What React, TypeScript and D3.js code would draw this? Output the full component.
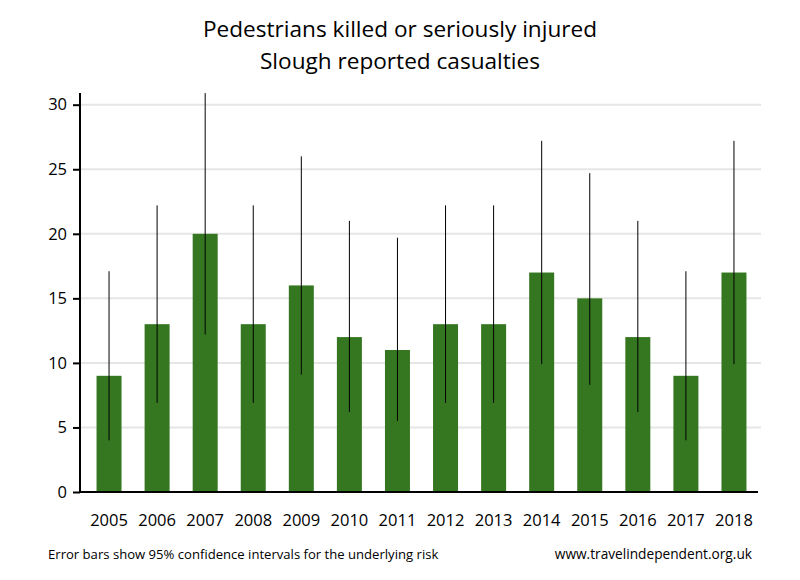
import React, { useRef, useEffect } from 'react';
import * as d3 from 'd3';

const years = ['2005', '2006', '2007', '2008', '2009', '2010', '2011', '2012', '2013', '2014', '2015', '2016', '2017', '2018'];
const casualties = [9, 13, 20, 13, 16, 12, 11, 13, 13, 17, 15, 12, 9, 17];
const lowerCI = [4.0, 6.9, 12.2, 6.9, 9.1, 6.2, 5.5, 6.9, 6.9, 9.9, 8.3, 6.2, 4.0, 9.9];
const upperCI = [17.1, 22.2, 30.9, 22.2, 26.0, 21.0, 19.7, 22.2, 22.2, 27.2, 24.7, 21.0, 17.1, 27.2];
const yTicks = [0, 5, 10, 15, 20, 25, 30];

const FONT = '"Open Sans", "Noto Sans", sans-serif';

const App = () => {
  const ref = useRef<SVGSVGElement>(null);
  const width = 800;
  const height = 580;

  useEffect(() => {
    if (!ref.current) return;
    const svg = d3.select(ref.current);
    svg.selectAll('*').remove();

    const data = years.map((y, i) => ({
      year: y,
      value: casualties[i],
      lo: lowerCI[i],
      hi: upperCI[i],
    }));

    const x = d3.scaleBand().domain(years).range([85, 758]).paddingInner(0.48).paddingOuter(0.24);
    const y = d3.scaleLinear().domain([0, 30]).range([492, 104.7]);

    // title
    svg
      .append('text')
      .attr('x', 400)
      .attr('y', 37)
      .attr('text-anchor', 'middle')
      .style('font-family', FONT)
      .style('font-size', '22.6px')
      .text('Pedestrians killed or seriously injured');
    svg
      .append('text')
      .attr('x', 400)
      .attr('y', 69)
      .attr('text-anchor', 'middle')
      .style('font-family', FONT)
      .style('font-size', '22.6px')
      .text('Slough reported casualties');

    // gridlines
    svg
      .append('g')
      .selectAll('line')
      .data(yTicks.filter(t => t > 0))
      .enter()
      .append('line')
      .attr('x1', 80)
      .attr('x2', 761)
      .attr('y1', d => y(d))
      .attr('y2', d => y(d))
      .attr('stroke', '#e6e6e6')
      .attr('stroke-width', 2);

    // bars
    svg
      .append('g')
      .selectAll('rect')
      .data(data)
      .enter()
      .append('rect')
      .attr('x', d => x(d.year)!)
      .attr('width', x.bandwidth())
      .attr('y', d => y(d.value))
      .attr('height', d => y(0) - y(d.value))
      .attr('fill', '#357721');

    // error bars
    svg
      .append('g')
      .selectAll('line')
      .data(data)
      .enter()
      .append('line')
      .attr('x1', d => x(d.year)! + x.bandwidth() / 2)
      .attr('x2', d => x(d.year)! + x.bandwidth() / 2)
      .attr('y1', d => y(d.lo))
      .attr('y2', d => y(d.hi))
      .attr('stroke', '#000')
      .attr('stroke-width', 1);

    // y axis
    const yAxis = d3
      .axisLeft(y)
      .tickValues(yTicks)
      .tickSize(7)
      .tickPadding(6);
    const gy = svg.append('g').attr('transform', 'translate(80,0)').call(yAxis);
    gy.select('.domain').remove();
    gy.selectAll('.tick line').attr('stroke', '#000').attr('stroke-width', 2);
    gy.selectAll('.tick text')
      .style('font-family', FONT)
      .style('font-size', '16.5px')
      .attr('fill', '#000');
    svg
      .append('line')
      .attr('x1', 80)
      .attr('x2', 80)
      .attr('y1', 93)
      .attr('y2', 493)
      .attr('stroke', '#000')
      .attr('stroke-width', 2);

    // x axis
    const xAxis = d3.axisBottom(x).tickSize(0).tickPadding(22);
    const gx = svg.append('g').attr('transform', 'translate(0,492)').call(xAxis);
    gx.select('.domain').remove();
    gx.selectAll('.tick text')
      .style('font-family', FONT)
      .style('font-size', '16.5px')
      .attr('fill', '#000');
    svg
      .append('line')
      .attr('x1', 79)
      .attr('x2', 758)
      .attr('y1', 492)
      .attr('y2', 492)
      .attr('stroke', '#000')
      .attr('stroke-width', 2);

    // footer
    svg
      .append('text')
      .attr('x', 48)
      .attr('y', 559)
      .style('font-family', FONT)
      .style('font-size', '13.1px')
      .text('Error bars show 95% confidence intervals for the underlying risk');
    svg
      .append('text')
      .attr('x', 752)
      .attr('y', 559)
      .attr('text-anchor', 'end')
      .style('font-family', FONT)
      .style('font-size', '13.7px')
      .text('www.travelindependent.org.uk');
  }, []);

  return (
    <svg
      ref={ref}
      width={width}
      height={height}
      style={{ position: 'absolute', left: 0, top: 0, background: '#fff' }}
    />
  );
};

export default App;
